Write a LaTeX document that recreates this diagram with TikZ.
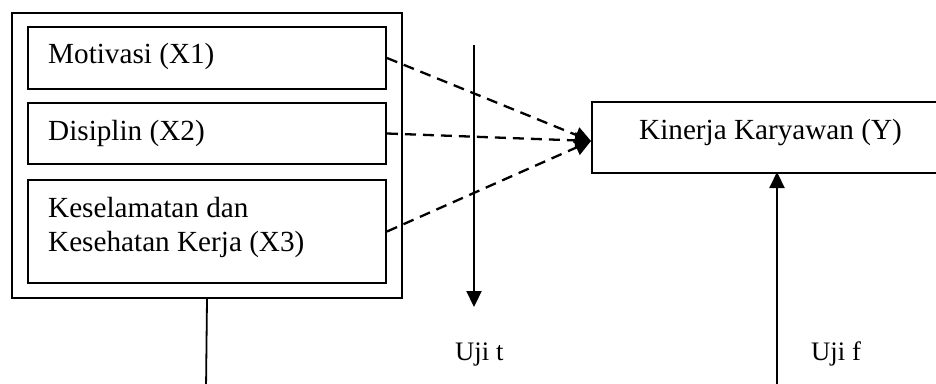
\documentclass[tikz,border=0pt]{standalone}
\usepackage{fontspec}
\setmainfont{Liberation Serif}
\usetikzlibrary{arrows.meta}
\begin{document}
\begin{tikzpicture}[x=1pt,y=-1pt,
  box/.style={draw,line width=2pt,rectangle,inner sep=0pt,anchor=north west},
  lbl/.style={anchor=base west,inner sep=0pt,font=\fontsize{29.2}{34}\selectfont},
  ujilbl/.style={anchor=base west,inner sep=0pt,font=\fontsize{26.7}{32}\selectfont},
  dasharrow/.style={line width=2.3pt,dash pattern=on 11pt off 7pt,-{Triangle[length=16pt,width=16pt]}},
  solidarrow/.style={line width=2.2pt,-{Triangle[length=16pt,width=15pt]}}]
\useasboundingbox (0,0) rectangle (936,383);
% outer box
\node[box,minimum width=390pt,minimum height=285pt] (outer) at (11,12) {};
% inner boxes
\node[box,minimum width=358pt,minimum height=62pt] (b1) at (27,26) {};
\node[box,minimum width=358pt,minimum height=61pt] (b2) at (27,102) {};
\node[box,minimum width=358pt,minimum height=103pt] (b3) at (27,179) {};
\node[lbl] (t1) at (48,63) {Motivasi (X1)};
\node[lbl] (t2) at (48,140) {Disiplin (X2)};
\node[lbl] (t3a) at (48,217) {Keselamatan dan};
\node[lbl] (t3b) at (48,251) {Kesehatan Kerja (X3)};
% Y box
\node[box,minimum width=380pt,minimum height=71pt] (Y) at (591,101) {};
\node[lbl] (ty) at (639,139) {Kinerja Karyawan (Y)};
\coordinate (tip) at (591,141);
% dashed arrows
\draw[dasharrow] (b1.east) -- (tip);
\draw[dasharrow] (b2.east) -- (tip);
\draw[dasharrow] (b3.east) -- (tip);
% Uji t arrow
\coordinate (ttop) at (474,45);
\coordinate (tbot) at (474,307);
\draw[solidarrow] (ttop) -- (tbot);
\node[ujilbl] (ujit) at (455,360) {Uji t};
% Uji f arrow
\coordinate (fbot) at (777,390);
\coordinate (ftop) at (777,172);
\draw[solidarrow] (fbot) -- (ftop);
\node[ujilbl] (ujif) at (811,360) {Uji f};
% left line
\coordinate (lbot) at (206,390);
\draw[line width=1.8pt] (outer.south) -- (lbot);
\end{tikzpicture}
\end{document}
